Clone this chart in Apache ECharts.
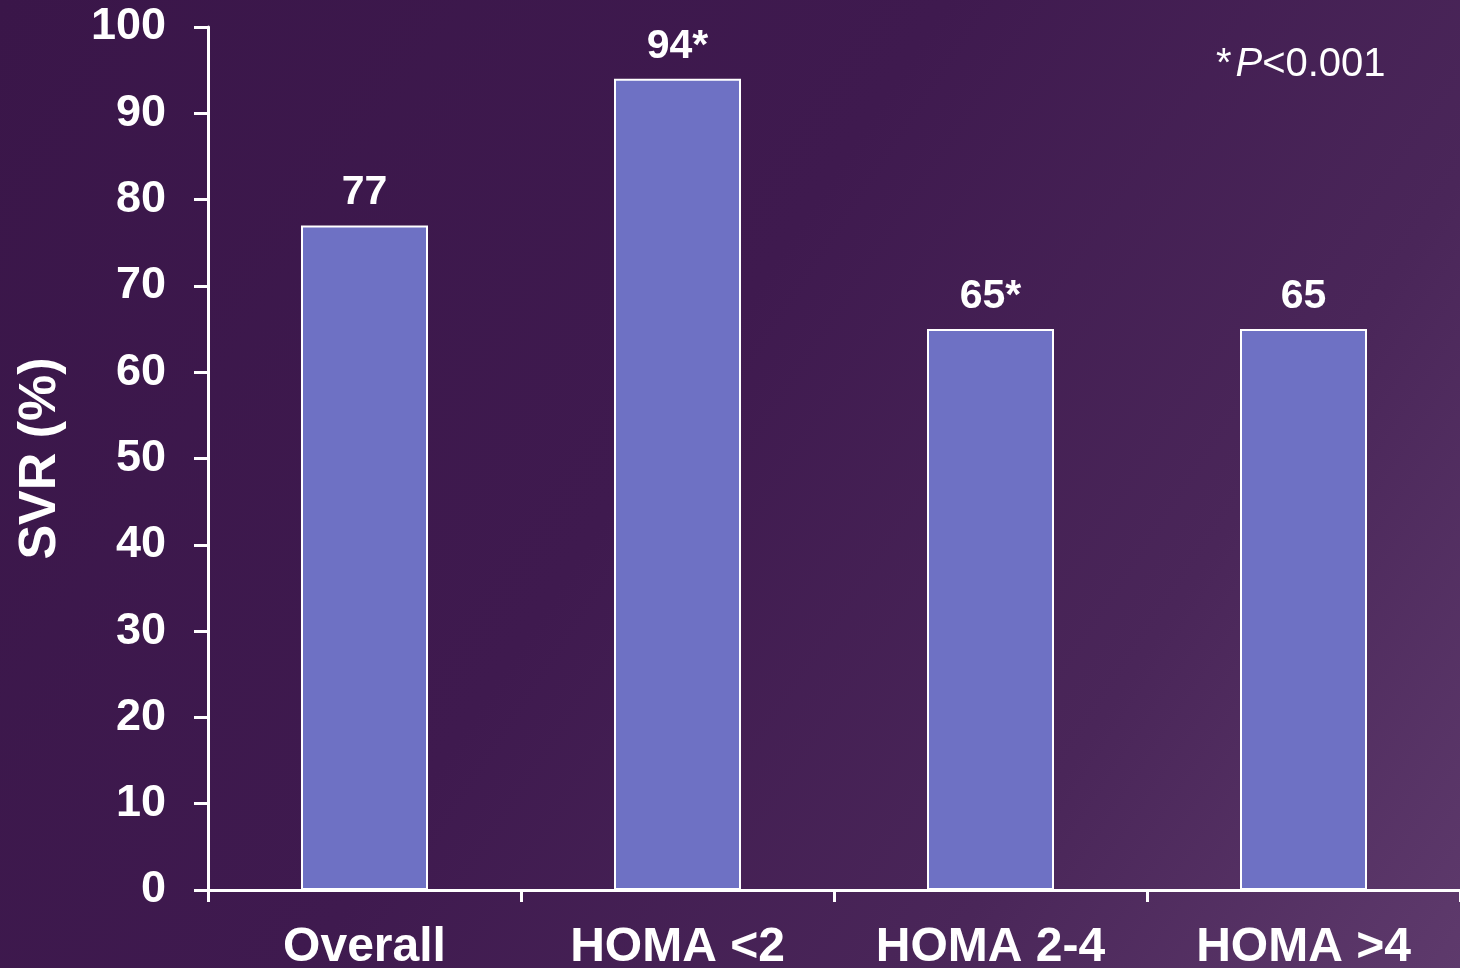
<!DOCTYPE html>
<html>
<head>
<meta charset="utf-8">
<script src="https://cdn.jsdelivr.net/npm/echarts@6/dist/echarts.min.js"></script>
<style>
html,body{margin:0;padding:0;width:1460px;height:968px;overflow:hidden;}
#chart{width:1460px;height:968px;}
</style>
</head>
<body>
<div id="chart"></div>
<script>
var categories = ['Overall', 'HOMA <2', 'HOMA 2-4', 'HOMA >4'];
var svrValues = [77, 94, 65, 65];
var barLabels = ['77', '94*', '65*', '65'];
var yTicks = [0, 10, 20, 30, 40, 50, 60, 70, 80, 90, 100];
var yAxisTitle = 'SVR (%)';

var FONT = '"Liberation Sans", Arial, sans-serif';
var chart = echarts.init(document.getElementById('chart'), null, {renderer: 'canvas'});

chart.setOption({
  backgroundColor: {
    type: 'linear', x: 0, y: 0, x2: 1, y2: 1,
    colorStops: [
      {offset: 0, color: '#3a1649'},
      {offset: 0.45, color: '#3f1a4f'},
      {offset: 0.75, color: '#4a2659'},
      {offset: 1, color: '#5e3a6c'}
    ]
  },
  animation: false,
  grid: {left: 208, right: 0, top: 27, bottom: 78, containLabel: false, outerBoundsMode: 'none'},
  xAxis: {
    type: 'category',
    data: categories,
    axisLine: {show: true, lineStyle: {color: '#ffffff', width: 3}},
    axisTick: {show: true, length: 12, lineStyle: {color: '#ffffff', width: 3}, alignWithLabel: false},
    axisLabel: {color: '#ffffff', fontFamily: FONT, fontWeight: 'bold', fontSize: 48, margin: 34, interval: 0}
  },
  yAxis: {
    type: 'value',
    min: yTicks[0],
    max: yTicks[yTicks.length - 1],
    interval: yTicks[1] - yTicks[0],
    name: yAxisTitle,
    nameLocation: 'middle',
    nameRotate: 90,
    nameGap: 141,
    nameTextStyle: {color: '#ffffff', fontFamily: FONT, fontWeight: 'bold', fontSize: 52},
    axisLine: {show: true, lineStyle: {color: '#ffffff', width: 3}},
    axisTick: {show: true, length: 14, lineStyle: {color: '#ffffff', width: 3}},
    axisLabel: {color: '#ffffff', fontFamily: FONT, fontWeight: 'bold', fontSize: 45, margin: 42},
    splitLine: {show: false}
  },
  series: [{
    type: 'bar',
    data: svrValues,
    barWidth: 127,
    itemStyle: {color: '#6e71c4', borderColor: '#ffffff', borderWidth: 2},
    label: {
      show: true,
      position: 'top',
      distance: 12,
      color: '#ffffff',
      fontFamily: FONT,
      fontWeight: 'bold',
      fontSize: 41,
      formatter: function (p) { return barLabels[p.dataIndex]; }
    }
  }],
  graphic: [{
    type: 'text',
    left: 1216,
    top: 45,
    style: {
      text: '{a|*}{s| }{b|P}{a|<0.001}',
      rich: {
        a: {fontFamily: FONT, fontSize: 40, fill: '#ffffff', color: '#ffffff'},
        s: {fontFamily: FONT, fontSize: 14, fill: '#ffffff', color: '#ffffff'},
        b: {fontFamily: FONT, fontSize: 40, fontStyle: 'italic', fill: '#ffffff', color: '#ffffff'}
      }
    }
  }]
});
</script>
</body>
</html>
